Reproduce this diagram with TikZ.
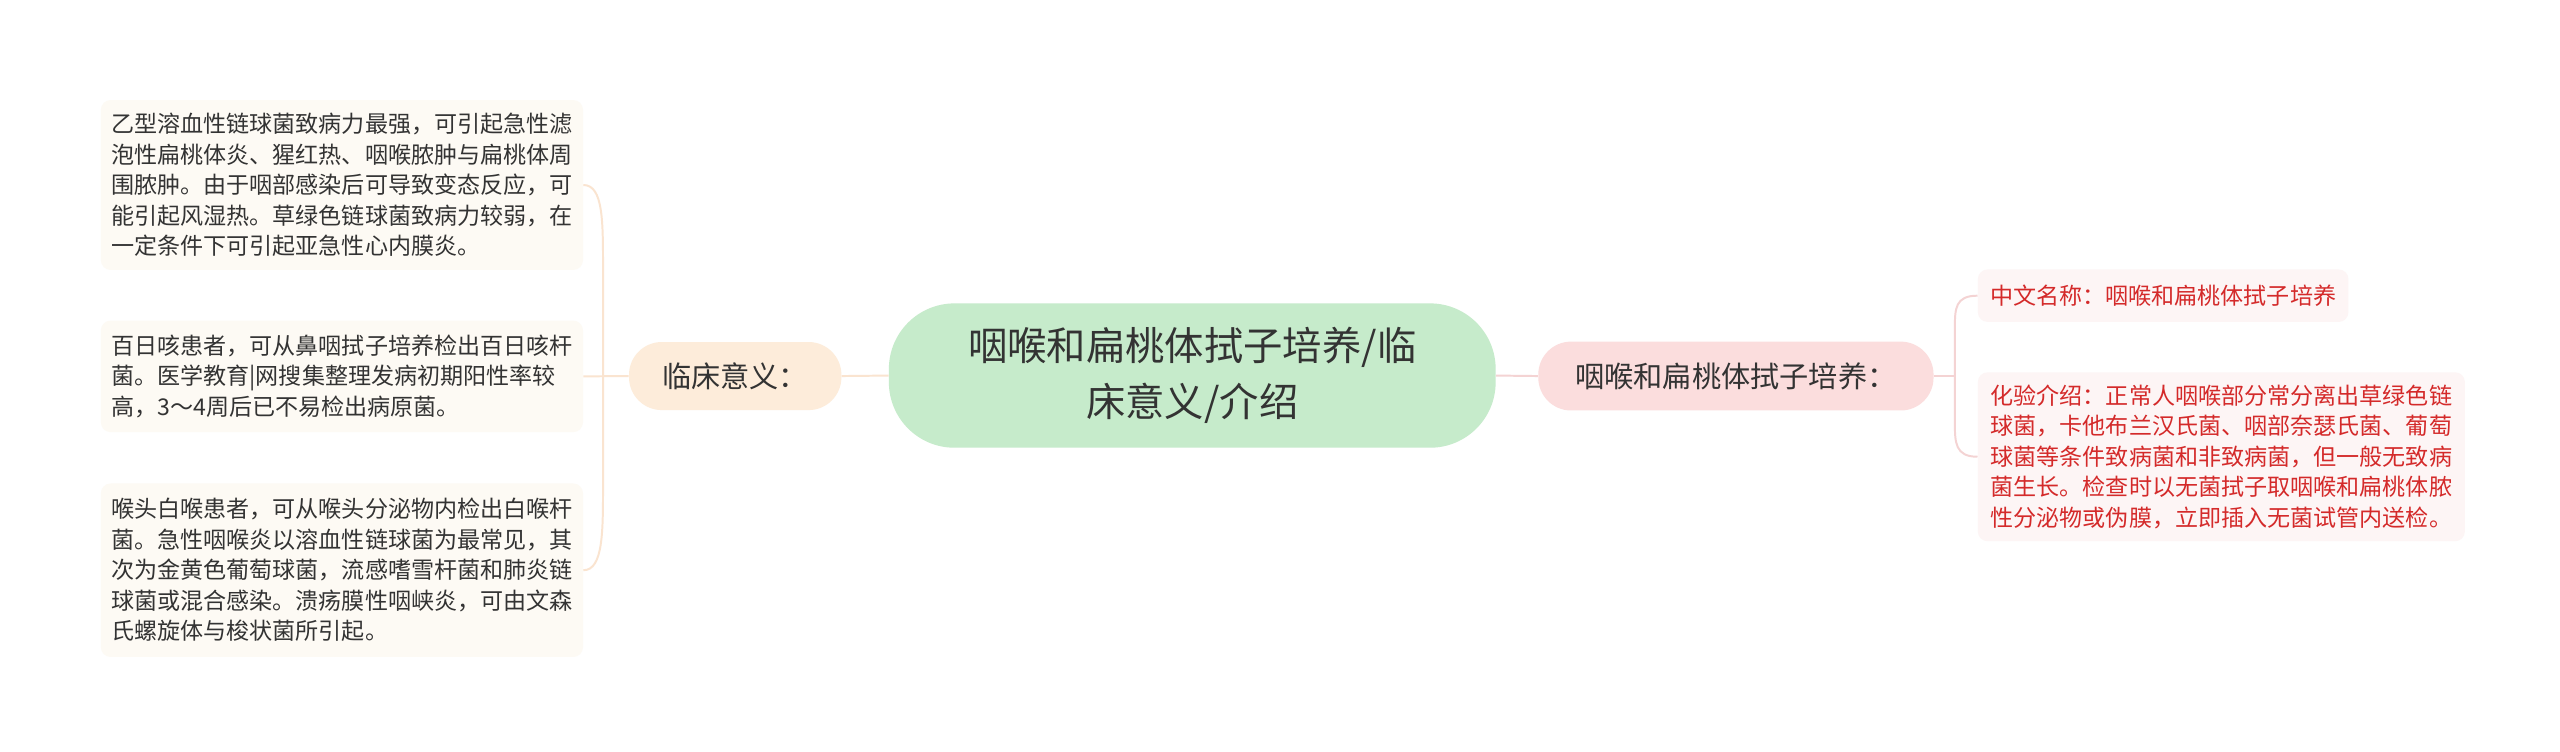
\documentclass[tikz,border=0pt]{standalone}
\usepackage{fontspec}
\setmainfont{Noto Sans CJK SC}
\usepackage{tikz}
\usetikzlibrary{calc}
\definecolor{mainfill}{HTML}{C6EBCB}
\definecolor{leftfill}{HTML}{FDECDA}
\definecolor{rightfill}{HTML}{FBDDDD}
\definecolor{leftleaf}{HTML}{FDFAF4}
\definecolor{rightleaf}{HTML}{FDF5F5}
\definecolor{leftline}{HTML}{FAE4D0}
\definecolor{rightline}{HTML}{F4D3D3}
\definecolor{redtext}{HTML}{D42A2A}
\definecolor{darktext}{HTML}{333333}
\tikzset{
	leafbox/.style={inner sep=0pt, rounded corners=6pt, align=left, text=darktext, font=\fontsize{14.07}{18.6}\selectfont},
	subbox/.style={inner sep=0pt, rounded corners=20pt, text=darktext, font=\fontsize{17.8}{20}\selectfont},
	lline/.style={draw=leftline, line width=1.2pt},
	rline/.style={draw=rightline, line width=1.2pt}
}

\begin{document}
\begin{tikzpicture}[x=1pt, y=-1pt]
			%%%%% START %%%%%
			
			\fill[white] (0,0) rectangle (1561,458.5);
			\useasboundingbox (0,0) rectangle (1561,458.5);
			
			\node[fill=mainfill, inner sep=0pt, rounded corners=40pt, minimum width=370pt, minimum height=88pt, align=center, text=darktext, font=\fontsize{24}{34.4}\selectfont] (center) at (727,229) {咽喉和扁桃体拭子培养/临\\床意义/介绍};
			
			\node[subbox, fill=leftfill, minimum width=129.5pt, minimum height=41.5pt] (lnode) at (448.3,229.3) {临床意义：};
			\node[subbox, fill=rightfill, minimum width=241pt, minimum height=42pt] (rnode) at (1058.5,229.3) {咽喉和扁桃体拭子培养：};
			
			\node[leafbox, fill=leftleaf, minimum width=294pt, minimum height=103.6pt] (lbox1) at (208.5,112.8) {乙型溶血性链球菌致病力最强，可引起急性滤\\泡性扁桃体炎、猩红热、咽喉脓肿与扁桃体周\\围脓肿。由于咽部感染后可导致变态反应，可\\能引起风湿热。草绿色链球菌致病力较弱，在\\一定条件下可引起亚急性心内膜炎。};
			\node[leafbox, fill=leftleaf, minimum width=294pt, minimum height=68pt] (lbox2) at (208.5,229.5) {百日咳患者，可从鼻咽拭子培养检出百日咳杆\\菌。医学教育|网搜集整理发病初期阳性率较\\高，3～4周后已不易检出病原菌。};
			\node[leafbox, fill=leftleaf, minimum width=294pt, minimum height=105.8pt] (lbox3) at (208.5,347.7) {喉头白喉患者，可从喉头分泌物内检出白喉杆\\菌。急性咽喉炎以溶血性链球菌为最常见，其\\次为金黄色葡萄球菌，流感嗜雪杆菌和肺炎链\\球菌或混合感染。溃疡膜性咽峡炎，可由文森\\氏螺旋体与梭状菌所引起。};
			
			\node[leafbox, fill=rightleaf, text=redtext, minimum width=226pt, minimum height=32pt] (rleaf1) at (1319,180.3) {中文名称：咽喉和扁桃体拭子培养};
			\node[leafbox, fill=rightleaf, text=redtext, minimum width=297pt, minimum height=103pt] (rleaf2) at (1354.5,278.5) {化验介绍：正常人咽喉部分常分离出草绿色链\\球菌，卡他布兰汉氏菌、咽部奈瑟氏菌、葡萄\\球菌等条件致病菌和非致病菌，但一般无致病\\菌生长。检查时以无菌拭子取咽喉和扁桃体脓\\性分泌物或伪膜，立即插入无菌试管内送检。};
			
			\coordinate (lfork) at (367.7,229.5);
			\coordinate (rfork) at (1192,229.3);
			
			\draw[lline] (center.west) -- (lnode.east);
			\draw[lline] (lnode.west) -- (lbox2.east);
			\draw[lline] (lbox1.east) .. controls +(12.2,0) and +(0,-30) .. (lfork |- 0,165) -- (lfork);
			\draw[lline] (lbox3.east) .. controls +(12.2,0) and +(0,30) .. (lfork |- 0,294) -- (lfork);
			
			\draw[rline] (center.east) -- (rnode.west);
			\draw[rline] (rnode.east) -- (rfork);
			\draw[rline] (rleaf1.west) .. controls +(-13.5,0) and +(0,-12) .. (rfork |- 0,200) -- (rfork);
			\draw[rline] (rleaf2.west) .. controls +(-13.5,0) and +(0,12) .. (rfork |- 0,258) -- (rfork);
			
			%%%%% END %%%%%
		\end{tikzpicture}
\end{document}
